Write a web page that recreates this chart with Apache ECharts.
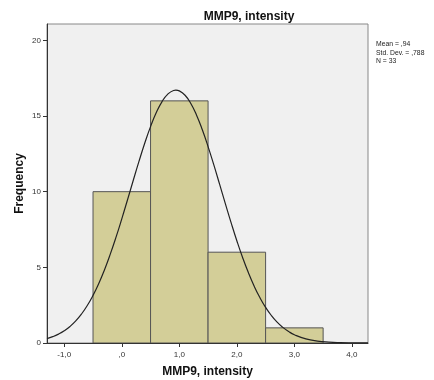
<!DOCTYPE html>
<html><head><meta charset="utf-8">
<script src="https://cdn.jsdelivr.net/npm/echarts@6/dist/echarts.min.js"></script>
<style>html,body{margin:0;padding:0;background:#fff}#c{width:434px;height:380px}</style>
</head><body><div id="c"></div>
<script>
// Histogram bins (bin start, bin end, frequency)
const binStarts = [-0.5, 0.5, 1.5, 2.5];
const binEnds = [0.5, 1.5, 2.5, 3.5];
const counts = [10, 16, 6, 1];
// Normal curve
const curveX = [-1.3,-1.2,-1.1,-1.0,-0.9,-0.8,-0.7,-0.6,-0.5,-0.4,-0.3,-0.2,-0.1,0.0,0.1,0.2,0.3,0.4,0.5,0.6,0.7,0.8,0.9,0.94,1.0,1.1,1.2,1.3,1.4,1.5,1.6,1.7,1.8,1.9,2.0,2.1,2.2,2.3,2.4,2.5,2.6,2.7,2.8,2.9,3.0,3.2,3.4,3.6,3.8,4.0,4.28];
const curveY = [0.294,0.418,0.586,0.807,1.095,1.459,1.916,2.475,3.146,3.935,4.846,5.871,6.993,8.203,9.468,10.753,12.016,13.213,14.299,15.225,15.953,16.448,16.689,16.71,16.662,16.370,15.825,15.054,14.092,12.980,11.766,10.496,9.212,7.956,6.761,5.654,4.654,3.768,3.003,2.354,1.817,1.379,1.031,0.758,0.548,0.273,0.128,0.056,0.023,0.009,0.002];
// Tick values and labels
const xTickValues = [-1, 0, 1, 2, 3, 4];
const xTickLabels = ["-1,0", ",0", "1,0", "2,0", "3,0", "4,0"];
const yTickValues = [0, 5, 10, 15, 20];
const yTickLabels = ["0", "5", "10", "15", "20"];
const titleText = "MMP9, intensity";
const xName = "MMP9, intensity";
const yName = "Frequency";
const statsLines = ["Mean = ,94", "Std. Dev. = ,788", "N = 33"];

const histData = binStarts.map((s, i) => [s, binEnds[i], counts[i]]);
const curveData = curveX.map((x, i) => [x, curveY[i]]);

const chart = echarts.init(document.getElementById('c'));
const FONT = 'Liberation Sans, Arial, sans-serif';
chart.setOption({
  animation: false,
  backgroundColor: '#fff',
  title: {
    text: titleText, left: 244, top: 6, textAlign: 'center',
    textStyle: {fontFamily: FONT, fontSize: 12, fontWeight: 'bold', color: '#111'}
  },
  grid: {left: 47, right: 66, top: 24, bottom: 37, show: true, outerBoundsMode: 'none', containLabel: false,
    backgroundColor: '#f0f0f0', borderColor: '#888', borderWidth: 1},
  xAxis: {
    type: 'value', min: -1.3, max: 4.28,
    name: xName, nameLocation: 'middle', nameGap: 23,
    nameTextStyle: {fontFamily: FONT, fontSize: 12, fontWeight: 'bold', color: '#111'},
    axisLine: {show: true, onZero: false, lineStyle: {color: '#333', width: 1}},
    axisTick: {show: true, length: 4, customValues: xTickValues, lineStyle: {color: '#333'}},
    axisLabel: {customValues: xTickValues, fontFamily: FONT, fontSize: 8, color: '#333', margin: 8,
      formatter: v => { const i = xTickValues.indexOf(Math.round(v)); return i >= 0 ? xTickLabels[i] : ''; }},
    splitLine: {show: false}
  },
  yAxis: {
    type: 'value', min: 0, max: 21.08,
    name: yName, nameLocation: 'middle', nameGap: 21, nameRotate: 90, nameMoveOverlap: false,
    nameTextStyle: {fontFamily: FONT, fontSize: 12, fontWeight: 'bold', color: '#111'},
    axisLine: {show: true, onZero: false, lineStyle: {color: '#333', width: 1}},
    axisTick: {show: true, length: 4, customValues: yTickValues, lineStyle: {color: '#333'}},
    axisLabel: {customValues: yTickValues, fontFamily: FONT, fontSize: 8, color: '#333', margin: 6,
      formatter: v => { const i = yTickValues.indexOf(Math.round(v)); return i >= 0 ? yTickLabels[i] : ''; }},
    splitLine: {show: false}
  },
  series: [
    {
      type: 'custom', data: histData, clip: true,
      renderItem: (params, api) => {
        const p0 = api.coord([api.value(0), api.value(2)]);
        const p1 = api.coord([api.value(1), 0]);
        return {type: 'rect', shape: {x: p0[0], y: p0[1], width: p1[0] - p0[0], height: p1[1] - p0[1]},
          style: {fill: '#d3ce98', stroke: '#555', lineWidth: 1}};
      },
      encode: {x: [0, 1], y: 2}, z: 2
    },
    {
      type: 'line', data: curveData, smooth: true, showSymbol: false, clip: true,
      lineStyle: {color: '#222', width: 1.2}, z: 3
    }
  ],
  graphic: statsLines.map((t, i) => ({
    type: 'text', left: 376, top: 41 + i * 8.5,
    style: {text: t, fontFamily: FONT, fontSize: 6.8, fill: '#222'}
  }))
});
</script></body></html>
